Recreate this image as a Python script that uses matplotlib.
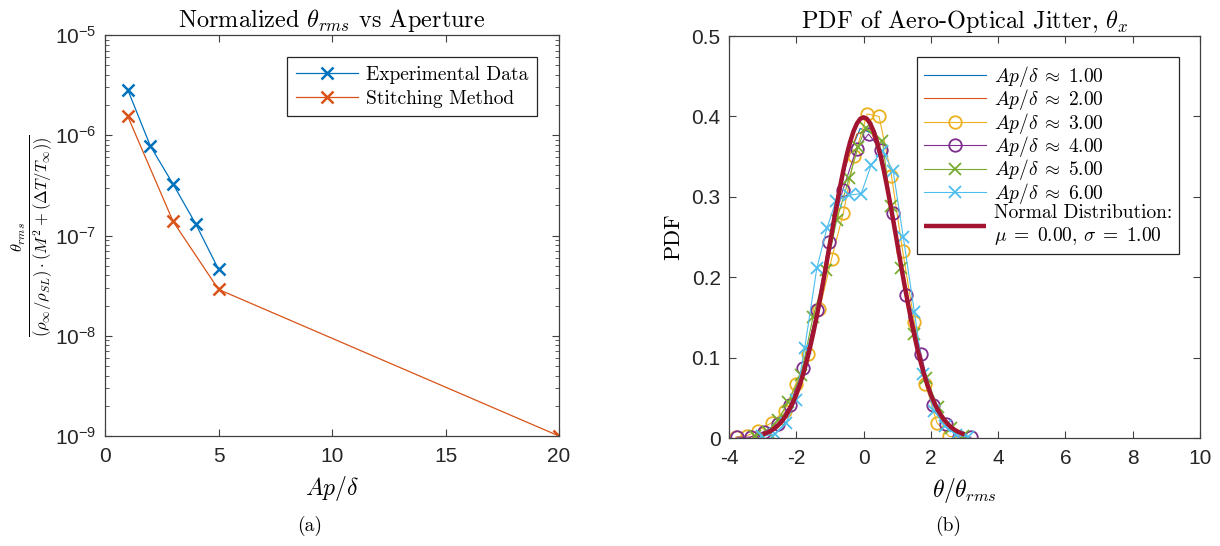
import matplotlib
matplotlib.use("Agg")
import matplotlib.pyplot as plt
from matplotlib.ticker import LogLocator, NullFormatter

plt.rcParams['font.family'] = 'Liberation Sans'
plt.rcParams['mathtext.fontset'] = 'cm'
plt.rcParams['axes.unicode_minus'] = False

# ---- panel (a) data ----
exp_ap = [1, 2, 3, 4, 5]
exp_theta = [2.85e-6, 7.8e-7, 3.25e-7, 1.3e-7, 4.6e-8]
stitch_ap = [1, 3, 5, 20]
stitch_theta = [1.55e-6, 1.38e-7, 2.9e-8, 1.0e-9]

# ---- panel (b) data ----
ap1_x = [-3.3, -2.9, -2.5, -2.1, -1.7, -1.3, -0.9, -0.5, -0.1, 0.3, 0.7, 1.1, 1.5, 1.9, 2.3, 2.7, 3.1]
ap1_y = [0.002, 0.006, 0.018, 0.045, 0.095, 0.170, 0.262, 0.345, 0.385, 0.378, 0.312, 0.215, 0.130, 0.066, 0.028, 0.009, 0.002]
ap2_x = [-3.4, -3.0, -2.6, -2.2, -1.8, -1.4, -1.0, -0.6, -0.2, 0.2, 0.6, 1.0, 1.4, 1.8, 2.2, 2.6, 3.0]
ap2_y = [0.001, 0.005, 0.014, 0.038, 0.080, 0.150, 0.240, 0.330, 0.378, 0.385, 0.335, 0.240, 0.150, 0.078, 0.035, 0.012, 0.003]
ap3_x = [-3.80, -3.46, -3.14, -2.73, -2.35, -2.02, -1.66, -1.31, -0.95, -0.60, -0.27, 0.11, 0.46, 0.83, 1.16, 1.51, 1.84, 2.18, 2.54, 2.86]
ap3_y = [0.001, 0.003, 0.009, 0.019, 0.034, 0.067, 0.104, 0.160, 0.223, 0.280, 0.351, 0.403, 0.400, 0.326, 0.233, 0.144, 0.067, 0.019, 0.002, 0.001]
ap4_x = [-3.76, -3.36, -2.96, -2.55, -2.19, -1.80, -1.39, -1.03, -0.62, -0.21, 0.15, 0.52, 0.88, 1.27, 1.71, 2.07, 2.46, 2.83, 3.19]
ap4_y = [0.001, 0.001, 0.008, 0.018, 0.041, 0.087, 0.159, 0.244, 0.308, 0.360, 0.378, 0.358, 0.280, 0.178, 0.104, 0.041, 0.017, 0.001, 0.001]
ap5_x = [-3.23, -2.85, -2.55, -2.24, -1.86, -1.50, -1.11, -0.80, -0.43, -0.16, 0.06, 0.56, 0.81, 1.11, 1.49, 1.87, 2.20, 2.59, 2.97]
ap5_y = [0.002, 0.008, 0.022, 0.045, 0.078, 0.151, 0.209, 0.271, 0.323, 0.362, 0.386, 0.369, 0.289, 0.211, 0.129, 0.075, 0.039, 0.013, 0.002]
ap6_x = [-3.01, -2.63, -2.30, -2.02, -1.75, -1.39, -1.09, -0.82, -0.43, -0.07, 0.23, 0.56, 0.88, 1.18, 1.51, 1.77, 2.09, 2.42, 2.75, 3.11]
ap6_y = [0.002, 0.005, 0.019, 0.047, 0.112, 0.211, 0.261, 0.295, 0.302, 0.304, 0.340, 0.357, 0.332, 0.250, 0.157, 0.080, 0.034, 0.015, 0.004, 0.001]
# normal distribution curve, read at 0.1 steps
norm_x = [-3.0, -2.9, -2.8, -2.7, -2.6, -2.5, -2.4, -2.3, -2.2, -2.1, -2.0, -1.9, -1.8, -1.7, -1.6,
          -1.5, -1.4, -1.3, -1.2, -1.1, -1.0, -0.9, -0.8, -0.7, -0.6, -0.5, -0.4, -0.3, -0.2, -0.1,
          0.0, 0.1, 0.2, 0.3, 0.4, 0.5, 0.6, 0.7, 0.8, 0.9, 1.0, 1.1, 1.2, 1.3, 1.4, 1.5,
          1.6, 1.7, 1.8, 1.9, 2.0, 2.1, 2.2, 2.3, 2.4, 2.5, 2.6, 2.7, 2.8, 2.9, 3.0]
norm_y = [0.0044, 0.0060, 0.0079, 0.0104, 0.0136, 0.0175, 0.0224, 0.0283, 0.0355, 0.0440, 0.0540,
          0.0656, 0.0790, 0.0940, 0.1109, 0.1295, 0.1497, 0.1714, 0.1942, 0.2179, 0.2420, 0.2661,
          0.2897, 0.3123, 0.3332, 0.3521, 0.3683, 0.3814, 0.3910, 0.3970, 0.3989, 0.3970, 0.3910,
          0.3814, 0.3683, 0.3521, 0.3332, 0.3123, 0.2897, 0.2661, 0.2420, 0.2179, 0.1942, 0.1714,
          0.1497, 0.1295, 0.1109, 0.0940, 0.0790, 0.0656, 0.0540, 0.0440, 0.0355, 0.0283, 0.0224,
          0.0175, 0.0136, 0.0104, 0.0079, 0.0060, 0.0044]

BLUE = '#0072BD'
ORANGE = '#D95319'
YELLOW = '#EDB120'
PURPLE = '#7E2F8E'
GREEN = '#77AC30'
CYAN = '#4DBEEE'
DARKRED = '#A2142F'
AXC = '#404040'
SERIF = 'cmr10'

fig = plt.figure(figsize=(12.2, 5.46), dpi=100)
W, H = 1220, 546
ax1 = fig.add_axes([105 / W, 1 - 436 / H, 454 / W, 401 / H])
ax2 = fig.add_axes([729 / W, 1 - 438 / H, 471 / W, 402 / H])

for ax in (ax1, ax2):
    for s in ax.spines.values():
        s.set_color(AXC)
        s.set_linewidth(0.9)
    ax.tick_params(which='both', direction='in', top=True, right=True,
                   colors=AXC, labelcolor='#262626', labelsize=15)
    ax.tick_params(which='major', length=5)
    ax.tick_params(which='minor', length=3)
    ax.tick_params(axis='x', pad=8)
    ax.tick_params(axis='y', pad=6)

# panel (a)
ax1.semilogy(exp_ap, exp_theta, '-x', color=BLUE, lw=0.9, ms=9, mew=1.8, label='Experimental Data')
ax1.semilogy(stitch_ap, stitch_theta, '-x', color=ORANGE, lw=0.9, ms=9, mew=1.8, label='Stitching Method')
ax1.set_xlim(0, 20)
ax1.set_ylim(1e-9, 1e-5)
ax1.set_xticks([0, 5, 10, 15, 20])
ax1.yaxis.set_major_locator(LogLocator(base=10, numticks=10))
ax1.yaxis.set_minor_locator(LogLocator(base=10, subs=range(2, 10), numticks=20))
ax1.yaxis.set_minor_formatter(NullFormatter())
ax1.set_title(r'Normalized $\theta_{rms}$ vs Aperture', fontfamily=SERIF, fontsize=17.5, pad=6)
ax1.set_xlabel(r'$Ap/\delta$', fontsize=17, labelpad=6)
ax1.set_ylabel(r'$\frac{\theta_{rms}}{(\rho_\infty/\rho_{SL})\cdot(M^2+(\Delta T/T_\infty))}$',
               fontsize=17, labelpad=0)
leg1 = ax1.legend(loc='upper right', bbox_to_anchor=(0.9515, 0.945), borderaxespad=0,
                  prop={'family': SERIF, 'size': 14},
                  fancybox=False, edgecolor='#262626', framealpha=1, handlelength=3.2,
                  labelspacing=0.3, borderpad=0.45, handletextpad=0.4)
leg1.get_frame().set_linewidth(0.9)

# panel (b)
ax2.plot(ap1_x, ap1_y, '-', color=BLUE, lw=0.8, label=r'$Ap/\delta \;\approx\; 1.00$')
ax2.plot(ap2_x, ap2_y, '-', color=ORANGE, lw=0.8, label=r'$Ap/\delta \;\approx\; 2.00$')
ax2.plot(ap3_x, ap3_y, '-o', color=YELLOW, lw=0.8, ms=9, mfc='none', mew=1.3, label=r'$Ap/\delta \;\approx\; 3.00$')
ax2.plot(ap4_x, ap4_y, '-o', color=PURPLE, lw=0.8, ms=9, mfc='none', mew=1.3, label=r'$Ap/\delta \;\approx\; 4.00$')
ax2.plot(ap5_x, ap5_y, '-x', color=GREEN, lw=0.8, ms=8, mew=1.3, label=r'$Ap/\delta \;\approx\; 5.00$')
ax2.plot(ap6_x, ap6_y, '-x', color=CYAN, lw=0.8, ms=8, mew=1.3, label=r'$Ap/\delta \;\approx\; 6.00$')
ax2.plot(norm_x, norm_y, '-', color=DARKRED, lw=3.2, solid_capstyle='butt',
         label='Normal Distribution:\n' + r'$\mu \;=\; 0.00$, $\sigma \;=\; 1.00$')
ax2.set_xlim(-4, 10)
ax2.set_ylim(0, 0.5)
ax2.set_xticks(range(-4, 11, 2))
ax2.set_yticks([0, 0.1, 0.2, 0.3, 0.4, 0.5])
ax2.set_yticklabels(['0', '0.1', '0.2', '0.3', '0.4', '0.5'])
ax2.set_title(r'PDF of Aero-Optical Jitter, $\theta_x$', fontfamily=SERIF, fontsize=17.5, pad=6)
ax2.set_xlabel(r'$\theta/\theta_{rms}$', fontsize=17, labelpad=6)
ax2.set_ylabel('PDF', fontfamily=SERIF, fontsize=16, labelpad=6)
leg2 = ax2.legend(loc='upper right', bbox_to_anchor=(0.955, 0.948), borderaxespad=0,
                  prop={'family': SERIF, 'size': 14},
                  fancybox=False, edgecolor='#262626', framealpha=1, handlelength=3.2,
                  labelspacing=-0.08, borderpad=0.35, handletextpad=0.4)
leg2.get_frame().set_linewidth(0.9)

fig.text(310 / W, 1 - 526 / H, '(a)', fontfamily=SERIF, fontsize=14, ha='center', va='center')
fig.text(948 / W, 1 - 526 / H, '(b)', fontfamily=SERIF, fontsize=14, ha='center', va='center')

fig.savefig('out.png', dpi=100)
